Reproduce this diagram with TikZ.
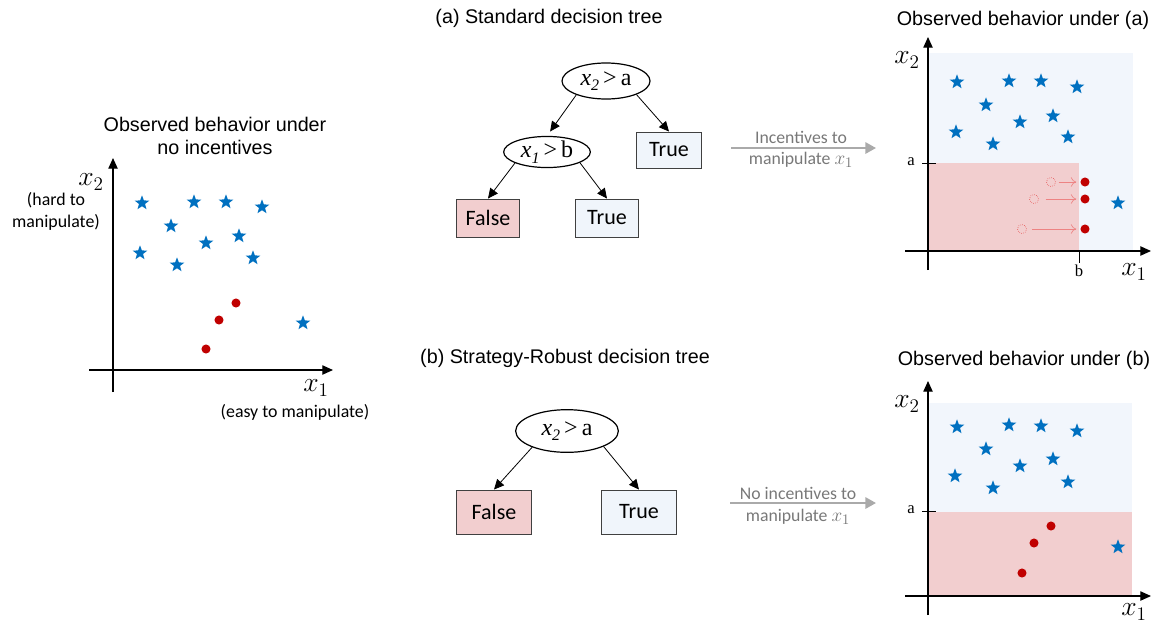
\documentclass[tikz,border=0pt]{standalone}
\usepackage{fontspec}
\setmainfont{Liberation Sans}
\newfontfamily\carfont{Carlito}
\newfontfamily\tmsfont{Liberation Serif}
\usetikzlibrary{shapes.geometric,arrows.meta}
\definecolor{starblue}{RGB}{0,112,192}
\definecolor{dotred}{RGB}{192,0,0}
\definecolor{bgblue}{RGB}{242,246,252}
\definecolor{bgred}{RGB}{242,206,207}
\definecolor{boxblue}{RGB}{240,245,251}
\definecolor{boxred}{RGB}{242,206,207}
\definecolor{ghost}{RGB}{232,100,100}
\definecolor{arrgray}{RGB}{170,170,170}
\definecolor{txtgray}{RGB}{120,120,120}
\newcommand{\condvar}[1]{\textit{x}\raisebox{-4pt}{\fontsize{12}{12}\selectfont\textit{#1}}}
\tikzset{
  st/.style={star,star points=5,star point ratio=2.4,fill=starblue,draw=none,inner sep=0pt,minimum size=11.5pt},
  rd/.style={circle,fill=dotred,draw=none,inner sep=0pt,minimum size=6.8pt},
  ghostdot/.style={circle,draw=ghost,densely dotted,line width=0.5pt,inner sep=0pt,minimum size=6.8pt},
  mv/.style={draw=ghost!80,line width=0.5pt,-{To[length=4pt,width=7pt]}},
  axis/.style={line width=0.9pt,-{Triangle[length=8pt,width=7pt]}},
  title/.style={font=\fontsize{14.8}{17.5}\selectfont,align=center,inner sep=0pt},
  lab/.style={font=\carfont\fontsize{13.4}{16.5}\selectfont,align=center,inner sep=0pt},
  axlab/.style={font=\fontsize{21}{21}\selectfont,inner sep=0pt},
  tick/.style={font=\tmsfont\fontsize{12.5}{12.5}\selectfont,inner sep=0pt},
  cond/.style={ellipse,draw,line width=0.9pt,inner sep=0pt,font=\tmsfont\fontsize{18}{18}\selectfont},
  leaf/.style={draw=black!75,line width=0.7pt,inner sep=0pt,font=\carfont\fontsize{16.5}{16.5}\selectfont},
  tarr/.style={line width=0.6pt,-{Triangle[length=7.5pt,width=7pt]}},
  garr/.style={draw=arrgray,line width=1.6pt,-{Triangle[length=8pt,width=8.5pt]}},
  gtxt/.style={font=\carfont\fontsize{13.3}{16}\selectfont,text=txtgray,align=center,inner sep=0pt}
}
\begin{document}
\begin{tikzpicture}[x=0.75pt,y=-0.75pt]
\useasboundingbox (0,0) rectangle (1159,626);

% ---------------- left plot ----------------
\node[title] (t0) at (215,136) {Observed behavior under\\no incentives};
\coordinate (lxs) at (89,370);
\coordinate (lxe) at (333,370);
\coordinate (lys) at (113,392);
\coordinate (lye) at (113,158);
\draw[axis] (lxs) -- (lxe);
\draw[axis] (lys) -- (lye);
\node[axlab] (lx2) at (91,182) {$x_2$};
\node[lab] (lx2d) at (56,211) {(hard to\\manipulate)};
\node[axlab] (lx1) at (316,388) {$x_1$};
\node[lab] (lx1d) at (295,412) {(easy to manipulate)};
\foreach \p [count=\i] in {(142,203),(194,202),(226,202),(262,207),(171,226),(239,236),(206,243),(140,253),(177,265),(253,258),(303,323)}
  \node[st] (ls\i) at \p {};
\foreach \p [count=\i] in {(236,303),(219,320),(206,349)}
  \node[rd] (ld\i) at \p {};

% ---------------- tree (a) ----------------
\node[title] (ta) at (549,18) {(a) Standard decision tree};
\node[cond,minimum width=66pt,minimum height=27pt] (ra) at (606,81) {\condvar{2}\,>\,a};
\node[cond,minimum width=65pt,minimum height=22.5pt] (ca) at (547,152) {\condvar{1}\,>\,b};
\node[leaf,fill=boxblue,minimum width=49pt,minimum height=27pt] (ta1) at (669,150) {True};
\node[leaf,fill=boxred,minimum width=47pt,minimum height=28.5pt] (fa) at (488,218) {False};
\node[leaf,fill=boxblue,minimum width=47pt,minimum height=28.5pt] (ta2) at (607,218) {True};
\draw[tarr,shorten >=4pt] (ra.205) -- (ca.north);
\draw[tarr] (ra.336) -- (ta1.north);
\draw[tarr] (ca.199) -- (fa.north);
\draw[tarr] (ca.342) -- (ta2.north);

% ---------------- tree (b) ----------------
\node[title] (tb) at (565,358) {(b) Strategy-Robust decision tree};
\node[cond,minimum width=77pt,minimum height=32pt] (rb) at (567,431) {\condvar{2}\,>\,a};
\node[leaf,fill=boxred,minimum width=56pt,minimum height=33pt] (fb) at (494,512) {False};
\node[leaf,fill=boxblue,minimum width=56pt,minimum height=33pt] (tb1) at (639,512) {True};
\draw[tarr] (rb.205) -- (fb.north);
\draw[tarr] (rb.337) -- (tb1.north);

% ---------------- gray arrows ----------------
\coordinate (ga1) at (731,148);
\coordinate (ga2) at (876,148);
\draw[garr] (ga1) -- (ga2);
\node[gtxt] (gt1) at (801,137) {Incentives to};
\node[gtxt] (gt2) at (801,160) {manipulate \fontsize{15}{15}\selectfont$x_1$};
\coordinate (gb1) at (730,503);
\coordinate (gb2) at (876,503);
\draw[garr] (gb1) -- (gb2);
\node[gtxt] (gt3) at (798,493) {No incentives to};
\node[gtxt] (gt4) at (798,517) {manipulate \fontsize{15}{15}\selectfont$x_1$};

% ---------------- plot (a) ----------------
\node[title] (tpa) at (1023,20) {Observed behavior under (a)};
\fill[bgblue] (928,53) rectangle (1133,251);
\fill[bgred] (928,163) rectangle (1079,251);
\coordinate (axs) at (905,251);
\coordinate (axe) at (1151,251);
\coordinate (ays) at (928,270);
\coordinate (aye) at (928,37);
\draw[axis] (axs) -- (axe);
\draw[axis] (ays) -- (aye);
\coordinate (aa1) at (922,163);
\coordinate (aa2) at (936,163);
\draw[line width=0.7pt] (aa1) -- (aa2);
\node[tick] (aa) at (911,162) {a};
\coordinate (ab1) at (1079,251);
\coordinate (ab2) at (1079,263);
\draw[line width=0.7pt] (ab1) -- (ab2);
\node[tick] (ab) at (1079,271) {b};
\node[axlab] (ax2) at (907,60) {$x_2$};
\node[axlab] (ax1) at (1134,272) {$x_1$};
\foreach \p [count=\i] in {(957,82),(1009,81),(1041,81),(1077,87),(986,105),(1053,116),(1020,122),(956,132),(993,144),(1068,137),(1118,203)}
  \node[st] (as\i) at \p {};
\node[rd] (ad1) at (1085,182) {};
\node[rd] (ad2) at (1085,199) {};
\node[rd] (ad3) at (1085,229) {};
\node[ghostdot] (ag1) at (1051,182) {};
\node[ghostdot] (ag2) at (1034,199) {};
\node[ghostdot] (ag3) at (1022,229) {};
\draw[mv,shorten <=2pt,shorten >=3pt] (ag1) -- (ad1);
\draw[mv,shorten <=5pt,shorten >=3pt] (ag2) -- (ad2);
\draw[mv,shorten <=4pt,shorten >=3pt] (ag3) -- (ad3);

% ---------------- plot (b) ----------------
\node[title] (tpb) at (1024,360) {Observed behavior under (b)};
\fill[bgblue] (928,403) rectangle (1132,596);
\fill[bgred] (928,512) rectangle (1132,596);
\coordinate (bxs) at (905,596);
\coordinate (bxe) at (1151,596);
\coordinate (bys) at (928,615);
\coordinate (bye) at (928,381);
\draw[axis] (bxs) -- (bxe);
\draw[axis] (bys) -- (bye);
\coordinate (ba1) at (922,511);
\coordinate (ba2) at (936,511);
\draw[line width=0.7pt] (ba1) -- (ba2);
\node[tick] (ba) at (911,510) {a};
\node[axlab] (bx2) at (907,404) {$x_2$};
\node[axlab] (bx1) at (1134,612) {$x_1$};
\foreach \p [count=\i] in {(957,427),(1009,425),(1041,426),(1077,431),(986,449),(1053,459),(1020,466),(955,476),(993,488),(1068,482),(1118,547)}
  \node[st] (bs\i) at \p {};
\foreach \p [count=\i] in {(1051,526),(1034,543),(1022,573)}
  \node[rd] (bd\i) at \p {};
\end{tikzpicture}
\end{document}
